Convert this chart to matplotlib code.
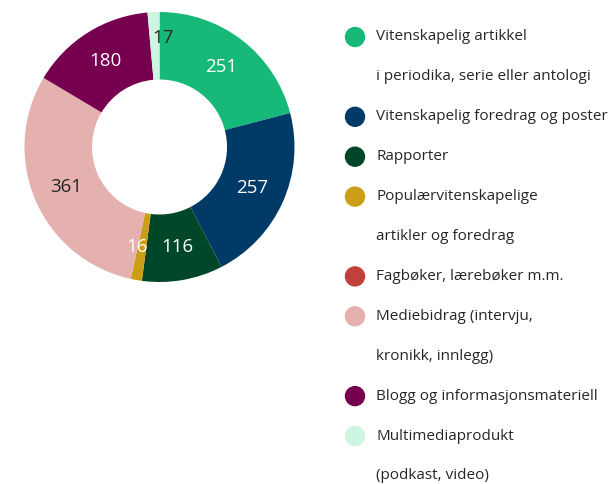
import matplotlib
matplotlib.use("Agg")
import matplotlib.pyplot as plt
import numpy as np

plt.rcParams['font.family'] = ['Open Sans', 'DejaVu Sans']

categories = [
    "Vitenskapelig artikkel\ni periodika, serie eller antologi",
    "Vitenskapelig foredrag og poster",
    "Rapporter",
    "Populærvitenskapelige\nartikler og foredrag",
    "Fagbøker, lærebøker m.m.",
    "Mediebidrag (intervju,\nkronikk, innlegg)",
    "Blogg og informasjonsmateriell",
    "Multimediaprodukt\n(podkast, video)",
]
values = [251, 257, 116, 16, 0, 361, 180, 17]
colors = ["#17B978", "#003B68", "#00472A", "#CC9D17", "#C0403B",
          "#E5B1AE", "#76004F", "#CCF5E2"]
label_colors = ["white", "white", "white", "white", "white",
                "#262626", "white", "#262626"]

W, H = 614, 484
fig = plt.figure(figsize=(W / 100, H / 100), dpi=100)

# Donut
cx, cy, R = 159.5, 147, 135
ax = fig.add_axes([(cx - R) / W, (H - cy - R) / H, 2 * R / W, 2 * R / H])
ax.pie(values, colors=colors, startangle=90, counterclock=False,
       radius=1.0, wedgeprops=dict(width=0.5, linewidth=0))
ax.set_xlim(-1, 1)
ax.set_ylim(-1, 1)
ax.set_aspect('equal')
ax.axis('off')

total = sum(values)
start = 0.0
for v, lc in zip(values, label_colors):
    if v > 0:
        mid = np.deg2rad((start + v / 2) / total * 360)
        r = 0.75
        x, y = r * np.sin(mid), r * np.cos(mid)
        if v == 17:
            x, y = x + 0.06, y + 0.06
        if v == 16:
            x -= 0.04
        ax.text(x, y, str(v), ha='center', va='center', fontsize=13.5,
                color=lc)
    start += v

# Legend drawn as rows of markers and text
row_y0, row_step = 37, 39.9
marker_x, text_x = 355, 376
row = 0
for lab, col in zip(categories, colors):
    lines = lab.split("\n")
    y = row_y0 + row * row_step
    fig.patches.append(matplotlib.patches.Ellipse(
        (marker_x / W, 1 - y / H), 19 / W, 19 / H,
        transform=fig.transFigure, color=col, figure=fig))
    for i, line in enumerate(lines):
        yy = row_y0 + (row + i) * row_step
        fig.text(text_x / W, 1 - yy / H, line, ha='left', va='center',
                 fontsize=11, color='#262626')
    row += len(lines)

fig.savefig("out.png", dpi=100)
